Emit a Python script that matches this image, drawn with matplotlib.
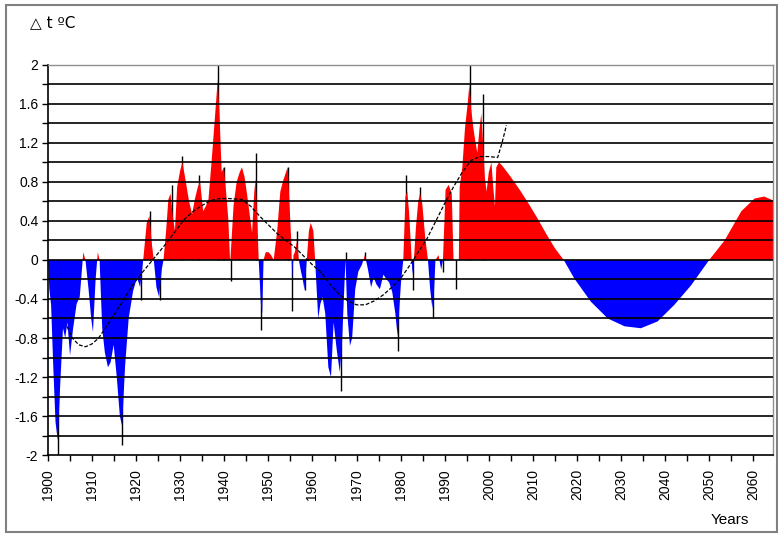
import matplotlib.pyplot as plt
import numpy as np
from matplotlib.patches import Rectangle
from matplotlib.ticker import MultipleLocator, FuncFormatter

years = [
    1900.0, 1900.3, 1900.7, 1901.2, 1901.7, 1902.2, 1902.8, 1903.4, 1903.9, 1904.4,
    1905.0, 1905.7, 1906.5, 1907.2, 1907.7, 1908.0, 1908.5, 1909.2, 1909.8, 1910.2,
    1910.8, 1911.3, 1911.7, 1912.3, 1912.9, 1913.6, 1914.2, 1914.9, 1915.6, 1916.3,
    1916.8, 1917.5, 1918.3, 1919.3, 1920.2, 1920.9, 1921.6, 1922.4, 1923.0, 1923.6,
    1924.0, 1924.6, 1925.2, 1925.8, 1926.2, 1926.8, 1927.3, 1927.8, 1928.3, 1928.8,
    1929.3, 1930.0, 1930.5, 1931.2, 1932.0, 1932.7, 1933.3, 1934.0, 1934.5, 1935.2,
    1935.8, 1936.4, 1937.1, 1937.6, 1938.1, 1938.5, 1938.9, 1939.4, 1939.9, 1940.4,
    1940.9, 1941.3, 1941.4, 1942.1, 1942.8, 1943.5, 1944.0, 1944.6, 1945.2, 1945.8,
    1946.3, 1946.8, 1947.1, 1947.5, 1947.8, 1948.3, 1948.6, 1948.9, 1949.4, 1950.0,
    1950.6, 1951.2, 1951.6, 1952.0, 1952.7, 1953.4, 1954.0, 1954.4, 1954.8, 1955.2,
    1955.4, 1955.7, 1956.0, 1956.5, 1956.9, 1957.4, 1957.8, 1958.2, 1958.7, 1959.2,
    1959.6, 1960.2, 1960.6, 1961.3, 1961.8, 1962.3, 1962.9, 1963.6, 1964.2, 1964.8,
    1965.5, 1966.2, 1966.7, 1967.3, 1967.5, 1967.9, 1968.5, 1969.0, 1969.7, 1970.4,
    1971.2, 1971.9, 1972.6, 1973.3, 1973.9, 1974.5, 1975.3, 1976.1, 1976.8, 1977.4,
    1978.1, 1978.8, 1979.3, 1979.7, 1980.1, 1980.6, 1981.1, 1981.5, 1981.9, 1982.3,
    1982.7, 1983.0, 1983.5, 1984.0, 1984.4, 1984.9, 1985.6, 1986.2, 1986.7, 1987.2,
    1987.6, 1987.9, 1988.6, 1989.2, 1989.6, 1990.2, 1990.9, 1991.6, 1992.0, 1993.2,
    1993.4, 1994.0, 1994.6, 1995.2, 1995.6, 1996.0, 1996.5, 1997.0, 1997.4, 1997.9,
    1998.3, 1998.7, 1999.1, 1999.5, 2000.0, 2000.6, 2001.0, 2001.4, 2001.7, 2002.3,
    2003.0, 2005.0, 2007.0, 2009.0, 2011.0, 2013.0, 2015.0, 2017.0, 2019.4, 2023.2,
    2027.0, 2030.8, 2034.5, 2038.3, 2042.1, 2045.9, 2050.0, 2053.5, 2057.3, 2060.3,
    2062.5, 2065.0,
]
dt = [
    0.0, -0.3, -0.46, -1.1, -1.66, -1.85, -1.25, -0.7, -0.8, -0.64,
    -0.98, -0.7, -0.45, -0.38, -0.1, 0.08, 0.0, -0.3, -0.6, -0.74,
    -0.2, 0.08, 0.0, -0.7, -0.95, -1.1, -1.05, -0.87, -1.2, -1.6,
    -1.7, -1.08, -0.6, -0.32, -0.18, -0.28, 0.0, 0.38, 0.45, 0.15,
    0.0, -0.28, -0.38, -0.1, 0.0, 0.3, 0.62, 0.68, 0.45, 0.3,
    0.75, 0.92, 1.0, 0.82, 0.6, 0.47, 0.62, 0.75, 0.8, 0.5,
    0.55, 0.62, 1.0, 1.3, 1.6, 1.85, 1.5, 0.9, 0.95, 0.7,
    0.42, 0.0, 0.02, 0.56, 0.8, 0.9, 0.95, 0.85, 0.66, 0.45,
    0.28, 0.7, 0.83, 0.4, 0.0, -0.45, -0.55, 0.0, 0.08, 0.08,
    0.05, 0.0, 0.15, 0.3, 0.7, 0.82, 0.9, 0.95, 0.56, 0.18,
    -0.2, 0.05, 0.08, 0.2, 0.0, -0.12, -0.2, -0.31, 0.0, 0.3,
    0.38, 0.3, 0.0, -0.6, -0.45, -0.38, -0.55, -1.1, -1.2, -0.64,
    -0.92, -1.15, -0.85, -0.2, 0.0, -0.55, -0.88, -0.8, -0.3, -0.12,
    -0.05, 0.05, -0.1, -0.28, -0.18, -0.25, -0.3, -0.15, -0.2, -0.23,
    -0.33, -0.55, -0.78, -0.5, -0.22, 0.0, 0.65, 0.7, 0.5, 0.18,
    -0.15, 0.0, 0.35, 0.6, 0.68, 0.58, 0.22, 0.0, -0.3, -0.5,
    -0.3, 0.0, 0.05, -0.1, 0.0, 0.72, 0.77, 0.68, 0.0, 0.0,
    0.75, 0.95, 1.35, 1.6, 1.8, 1.55, 1.35, 1.2, 1.1, 1.35,
    1.5, 1.2, 0.85, 0.7, 0.9, 1.0, 0.75, 0.55, 0.95, 1.0,
    0.97, 0.85, 0.72, 0.58, 0.43, 0.27, 0.12, 0.0, -0.19, -0.43,
    -0.6, -0.68, -0.7, -0.63, -0.46, -0.26, 0.0, 0.2, 0.5, 0.63,
    0.65, 0.6,
]

# single-year extremes drawn as thin black strokes
spike_years = [1902.3, 1916.8, 1921.1, 1923.1, 1925.3, 1928.1, 1930.5, 1934.2, 1938.5,
               1939.9, 1941.6, 1947.2, 1948.4, 1954.4, 1955.4, 1956.5, 1958.2, 1966.4,
               1967.5, 1972.0, 1979.4, 1981.3, 1982.7, 1984.3, 1987.3, 1989.5, 1992.5,
               1995.7, 1998.6]
spike_tops = [-2.0, -1.9, -0.41, 0.5, -0.41, 0.77, 1.07, 0.87, 2.0,
              0.95, -0.22, 1.1, -0.72, 0.95, -0.52, 0.3, -0.31, -1.34,
              0.08, 0.08, -0.93, 0.87, -0.31, 0.75, -0.6, -0.12, -0.3,
              2.0, 1.7]

# smoothed trend (thin dashed line)
trend_years = [1904.3, 1905.5, 1907, 1908.5, 1910, 1911.5, 1913, 1915, 1917, 1919,
               1921, 1923, 1925, 1927, 1929, 1931, 1933, 1935, 1937, 1939,
               1941, 1944, 1946, 1948, 1950, 1952, 1954, 1956, 1958, 1960,
               1962, 1964, 1966, 1968, 1970, 1972, 1974, 1976, 1978, 1980,
               1982, 1984, 1986, 1988, 1990, 1992, 1994, 1996, 1998, 2000,
               2002, 2003, 2004]
trend = [-0.68, -0.8, -0.87, -0.89, -0.86, -0.8, -0.7, -0.56, -0.42, -0.27,
         -0.15, -0.04, 0.07, 0.18, 0.3, 0.42, 0.5, 0.56, 0.61, 0.63,
         0.63, 0.62, 0.55, 0.45, 0.36, 0.27, 0.2, 0.13, 0.04, -0.05,
         -0.13, -0.25, -0.35, -0.42, -0.46, -0.46, -0.42, -0.36, -0.28, -0.19,
         -0.06, 0.08, 0.22, 0.4, 0.58, 0.75, 0.9, 1.02, 1.06, 1.06,
         1.05, 1.2, 1.38]


def ytick(v, pos):
    if abs(v) < 1e-9:
        return "0"
    return f"{v:.1f}".rstrip("0").rstrip(".")


def main():
    x = np.array(years)
    y = np.array(dt)

    fig = plt.figure(figsize=(7.78, 5.36), dpi=100)
    plt.rcParams["font.family"] = ["Liberation Sans", "DejaVu Sans"]
    ax = fig.add_axes([0.0617, 0.151, 0.932, 0.728])

    ax.vlines(spike_years, 0, spike_tops, color="black", linewidth=1.0, zorder=1)
    ax.fill_between(x, y, 0, where=y >= 0, interpolate=True, color="#ff0000", lw=0, zorder=2)
    ax.fill_between(x, y, 0, where=y <= 0, interpolate=True, color="#0000ff", lw=0, zorder=2)

    # horizontal grid every 0.2, drawn over the fills like the original
    for v in np.arange(-1.8, 1.9, 0.2):
        ax.axhline(v, color="black", linewidth=1.2, zorder=3)

    ax.plot(trend_years, trend, color="black", linewidth=0.9,
            linestyle=(0, (3, 1.5)), zorder=4)

    ax.set_xlim(1900, 2064.5)
    ax.set_ylim(-2, 2)
    ax.xaxis.set_major_locator(MultipleLocator(10))
    ax.xaxis.set_minor_locator(MultipleLocator(5))
    ax.yaxis.set_major_locator(MultipleLocator(0.4))
    ax.yaxis.set_minor_locator(MultipleLocator(0.2))
    ax.yaxis.set_major_formatter(FuncFormatter(ytick))
    ax.tick_params(axis="both", which="both", direction="out", length=4, width=1, color="black")
    ax.tick_params(axis="x", labelsize=10, rotation=90, pad=6)
    ax.tick_params(axis="y", labelsize=10, pad=3)

    ax.spines["left"].set_linewidth(1.2)
    ax.spines["bottom"].set_linewidth(1.2)
    for s in ("top", "right"):
        ax.spines[s].set_color("#909090")
        ax.spines[s].set_linewidth(1.0)

    fig.text(0.039, 0.957, "△ t ºC", fontsize=11, ha="left", va="center",
             family=["DejaVu Sans"])
    fig.text(0.938, 0.03, "Years", fontsize=11, ha="center", va="center")

    fig.patches.append(Rectangle((0.0077, 0.0075), 0.991, 0.983, transform=fig.transFigure,
                                 fill=False, edgecolor="#808080", linewidth=1.5))

    fig.savefig("out.png", dpi=100)


if __name__ == "__main__":
    main()
